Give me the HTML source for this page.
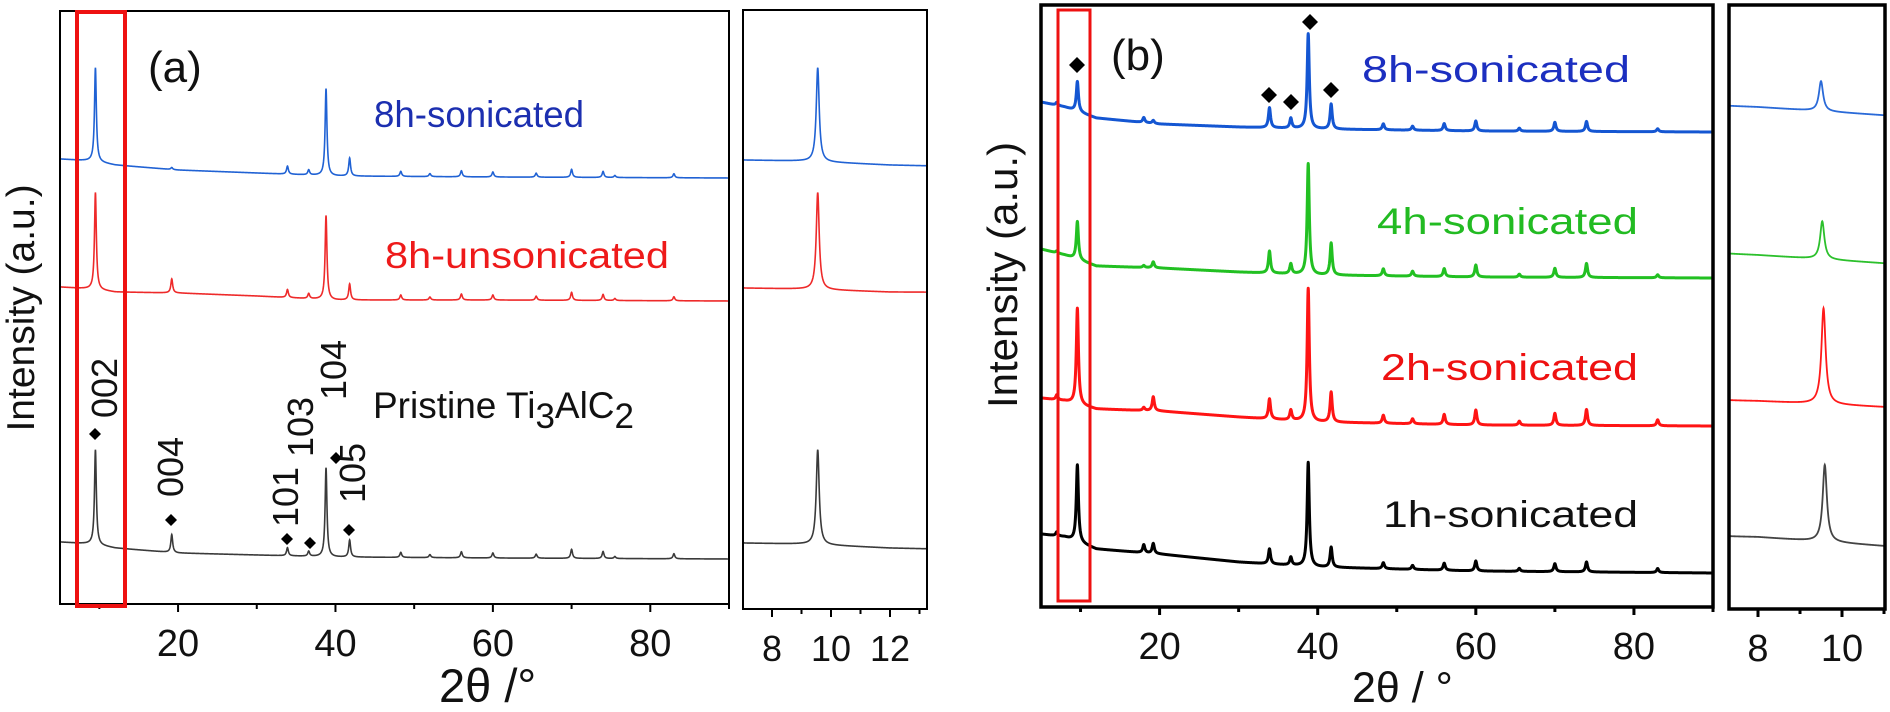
<!DOCTYPE html>
<html><head><meta charset="utf-8"><style>
html,body{margin:0;padding:0;background:#fff;}
svg{display:block;font-family:"Liberation Sans",Arial,sans-serif;}
</style></head><body>
<svg id="fig" width="1890" height="712" viewBox="0 0 1890 712" xmlns="http://www.w3.org/2000/svg">
<defs>
<clipPath id="cA"><rect x="60" y="11" width="669" height="593"/></clipPath>
<clipPath id="cAi"><rect x="743" y="10" width="184" height="599"/></clipPath>
<clipPath id="cB"><rect x="1041" y="5" width="672" height="602"/></clipPath>
<clipPath id="cBi"><rect x="1729" y="5" width="156" height="604"/></clipPath>
</defs>
<g id="layer"></g>
</svg>
<script>
// ---------- Panel (a) data ----------
const aPeaksX = [9.5, 19.2, 33.9, 36.6, 38.8, 41.8, 48.3, 52.0, 56.0, 60.0, 65.5, 70.0, 74.0, 75.5, 83.0];
const aBlueH  = [94, 2, 8, 5, 87, 18, 5, 3, 6, 5, 4, 8, 6, 2, 4];
const aRedH   = [97, 14, 8, 5, 84, 16, 5, 3, 6, 5, 4, 8, 6, 2, 4];
const aBlackH = [95, 18, 8, 5, 89, 17, 5, 3, 6, 5, 4, 9, 7, 2, 5];
const aBgX = [5, 9, 12, 20, 30, 40, 60, 90];
const aBlueBg  = [445, 443, 439, 434, 431, 428, 427, 426];
const aRedBg   = [317, 315, 312, 311, 308, 304, 304, 303];
const aBlackBg = [62, 60, 56, 51, 49, 47, 46, 45];
// ---------- Panel (b) data ----------
const bPeaksX = [7.0, 9.6, 18.0, 19.2, 33.9, 36.6, 38.8, 41.7, 48.3, 52.0, 56.0, 60.0, 65.5, 70.0, 74.0, 83.0];
const bBlueH  = [3, 30, 5, 3, 20, 10, 95, 25, 6, 4, 7, 10, 3, 9, 10, 3];
const bGreenH = [2, 38, 2, 6, 22, 10, 111, 32, 7, 5, 8, 12, 3, 9, 14, 3];
const bRedH   = [5, 96, 3, 14, 20, 10, 133, 30, 8, 5, 10, 15, 4, 12, 16, 6];
const bBlackH = [4, 77, 8, 10, 15, 8, 104, 20, 6, 4, 7, 10, 3, 8, 10, 4];
const bBgX = [5, 8, 12, 20, 30, 40, 60, 90];
const bBlueBg  = [505, 500, 489, 483, 480, 478, 476, 475];
const bGreenBg = [358, 352, 341, 339, 335, 332, 330, 329];
const bRedBg   = [209, 206, 198, 196, 190, 185, 182, 181];
const bBlackBg = [73, 70, 58, 53, 45, 40, 36, 34];
// tick labels
const aTicks = [20, 40, 60, 80];
const aInsetTicks = [8, 10, 12];
const bTicks = [20, 40, 60, 80];
const bInsetTicks = [8, 10];

const NS = "http://www.w3.org/2000/svg";
const layer = document.getElementById('layer');
function el(tag, attrs, parent, text){
  const e = document.createElementNS(NS, tag);
  for (const k in attrs) e.setAttribute(k, attrs[k]);
  if (text !== undefined) e.textContent = text;
  (parent || layer).appendChild(e);
  return e;
}
function lin(d0, d1, r0, r1){ return v => r0 + (v - d0) * (r1 - r0) / (d1 - d0); }
function interp(xs, ys, x){
  if (x <= xs[0]) return ys[0];
  for (let i = 1; i < xs.length; i++) if (x <= xs[i]) { const t = (x - xs[i-1]) / (xs[i] - xs[i-1]); return ys[i-1] + t * (ys[i] - ys[i-1]); }
  return ys[ys.length-1];
}
function val(x, bgX, bgY, pX, pH, w){
  let y = interp(bgX, bgY, x);
  for (let i = 0; i < pX.length; i++){ const d = x - pX[i]; y += pH[i] * w * w / (d * d + w * w); }
  return y;
}
function path(xs, ys, bgX, bgY, pX, pH, w, x0, x1, step){
  let d = '';
  for (let x = x0; x <= x1 + 1e-9; x += step){
    d += (d ? 'L' : 'M') + xs(x).toFixed(2) + ',' + ys(val(x, bgX, bgY, pX, pH, w)).toFixed(2);
  }
  return d;
}

// scales
const xA = lin(5, 90, 60, 729), yA = lin(0, 593, 604, 11);
const xAi = lin(8, 10, 772, 831), yAi = lin(0, 593, 604, 11);
const xB = lin(5, 90, 1041, 1713), yB = lin(0, 602, 607, 5);
const xBi = lin(8, 10, 1758, 1842), yBi = lin(0, 602, 607, 5);

// ---- Panel (a) main ----
const gA = el('g', {'clip-path':'url(#cA)'});


const aSeries = [[aBlueBg, aBlueH, '#2062d4', 'trace-a-8h-sonicated'], [aRedBg, aRedH, '#ee2a2a', 'trace-a-8h-unsonicated'], [aBlackBg, aBlackH, '#3a3a3a', 'trace-a-pristine']];
aSeries.forEach(s => {
  const p = el('path', {d: path(xA, yA, aBgX, s[0], aPeaksX, s[1], 0.14, 5, 90, 0.02), fill:'none', stroke:s[2], 'stroke-width':1.6}, gA);
  
  
});
// ---- Panel (a) inset ----
const gAi = el('g', {'clip-path':'url(#cAi)'});


aSeries.forEach(s => {
  const p = el('path', {d: path(xAi, yAi, aBgX, s[0], aPeaksX.map(v => v===9.5?9.55:v), s[1], 0.06, 7, 13.3, 0.005), fill:'none', stroke:s[2], 'stroke-width':1.6}, gAi);
  
  
});
// ---- Panel (b) main ----
const gB = el('g', {'clip-path':'url(#cB)'});


const bSeries = [[bBlueBg, bBlueH, '#1456d2', 'trace-b-8h'], [bGreenBg, bGreenH, '#22c022', 'trace-b-4h'], [bRedBg, bRedH, '#ff1414', 'trace-b-2h'], [bBlackBg, bBlackH, '#000000', 'trace-b-1h']];
bSeries.forEach(s => {
  const p = el('path', {d: path(xB, yB, bBgX, s[0], bPeaksX, s[1], 0.16, 5, 90, 0.02), fill:'none', stroke:s[2], 'stroke-width':3, 'stroke-linejoin':'round'}, gB);
  
  
});
// ---- Panel (b) inset ----
const gBi = el('g', {'clip-path':'url(#cBi)'});


const bInsetColors = ['#2a6ad8', '#2cc02c', '#ff1a1a', '#444444'];
bSeries.forEach((s, i) => {
  const p = el('path', {d: path(xBi, yBi, bBgX, s[0], bPeaksX.map(v => v===9.6?9.5+0.03*i:v), s[1], 0.06, 7.2, 11.1, 0.005), fill:'none', stroke:bInsetColors[i], 'stroke-width':1.8}, gBi);
  
  
});

// ---- Frames and axes ----
function frame(x, y, w, h, sw, name){
  const r = el('rect', {x:x, y:y, width:w, height:h, fill:'none', stroke:'#000', 'stroke-width':sw});
  
  
}
frame(60, 11, 669, 593, 2, 'panel-a-frame');
frame(743, 10, 184, 599, 2, 'panel-a-inset-frame');
frame(1041, 5, 672, 602, 3.5, 'panel-b-frame');
frame(1729, 5, 156, 604, 3.5, 'panel-b-inset-frame');

function ticks(xs, y0, majors, minors, fs, name, sw){
  const g = el('g', {});
  
  
  majors.forEach(v => {
    el('line', {x1:xs(v), x2:xs(v), y1:y0, y2:y0+8, stroke:'#000', 'stroke-width':sw}, g);
    const t = el('text', {x:xs(v), y:y0+52, 'font-size':fs, 'text-anchor':'middle', fill:'#111'}, g, String(v));
    
    
  });
  minors.forEach(v => el('line', {x1:xs(v), x2:xs(v), y1:y0, y2:y0+5, stroke:'#000', 'stroke-width':sw}, g));
}
ticks(xA, 604, aTicks, [10, 30, 50, 70, 90], 38, 'panel-a-x-axis', 2);
ticks(xAi, 609, aInsetTicks, [9, 11, 13], 36, 'panel-a-inset-x-axis', 2);
ticks(xB, 607, bTicks, [10, 30, 50, 70, 90], 38, 'panel-b-x-axis', 3);
ticks(xBi, 609, bInsetTicks, [9, 11], 38, 'panel-b-inset-x-axis', 3);

// red boxes
function rbox(x, y, w, h, sw, name){
  const r = el('rect', {x:x, y:y, width:w, height:h, fill:'none', stroke:'#ee1111', 'stroke-width':sw});
  
  
}
rbox(77, 12, 48, 594, 4, 'panel-a-highlight-box');
rbox(1058, 10, 32, 591, 3, 'panel-b-highlight-box');

// diamonds
function diamond(cx, cy, r, name){
  const p = el('polygon', {points:`${cx},${cy-r} ${cx+r},${cy} ${cx},${cy+r} ${cx-r},${cy}`, fill:'#000'});
  
  
}
[[95,434],[171,520],[287,539],[310,543],[336,458],[349,530]].forEach((d,i)=>diamond(d[0],d[1],6,'peak-marker-a-'+i));
[[1077,65],[1269,95],[1291,102],[1310,22],[1331,90]].forEach((d,i)=>diamond(d[0],d[1],8,'peak-marker-b-'+i));

// rotated hkl labels
[['002',104,418],['004',170,497],['101',285,527],['103',300,457],['104',333,400],['105',352,503]].forEach(l => {
  const t = el('text', {x:0, y:0, 'font-size':36, fill:'#111', transform:`translate(${l[1]+13},${l[2]}) rotate(-90)`}, layer, l[0]);
  
  
});

function txt(x, y, s, fs, fill, name, extra){
  const a = {x:x, y:y, 'font-size':fs, fill:fill};
  for (const k in (extra||{})) a[k] = extra[k];
  const t = el('text', a, layer, s);
  
  
  return t;
}
txt(148, 82, '(a)', 44, '#111', 'panel-a-label');
txt(374, 127, '8h-sonicated', 37, '#1c2fb0', 'label-a-8h-sonicated', {textLength:210, lengthAdjust:'spacingAndGlyphs'});
txt(385, 268, '8h-unsonicated', 37, '#ee1a1a', 'label-a-8h-unsonicated', {textLength:284, lengthAdjust:'spacingAndGlyphs'});
const pr = txt(373, 418, 'Pristine Ti', 37, '#111', 'label-a-pristine');
el('tspan', {dy:10, 'font-size':35}, pr, '3');
el('tspan', {dy:-10}, pr, 'AlC');
el('tspan', {dy:10, 'font-size':35}, pr, '2');
txt(0, 0, 'Intensity (a.u.)', 39, '#111', 'panel-a-y-axis-title', {transform:'translate(34,308) rotate(-90)', 'text-anchor':'middle'});
txt(439, 702, '2θ /°', 47, '#111', 'panel-a-x-axis-title');

txt(1111, 70, '(b)', 44, '#111', 'panel-b-label');
txt(1362, 82, '8h-sonicated', 37, '#1c2fc0', 'label-b-8h', {textLength:268, lengthAdjust:'spacingAndGlyphs'});
txt(1377, 234, '4h-sonicated', 37, '#22bb22', 'label-b-4h', {textLength:261, lengthAdjust:'spacingAndGlyphs'});
txt(1381, 380, '2h-sonicated', 37, '#ee1111', 'label-b-2h', {textLength:257, lengthAdjust:'spacingAndGlyphs'});
txt(1383, 527, '1h-sonicated', 37, '#111', 'label-b-1h', {textLength:255, lengthAdjust:'spacingAndGlyphs'});
txt(0, 0, 'Intensity (a.u.)', 42, '#111', 'panel-b-y-axis-title', {transform:'translate(1017,275) rotate(-90)', 'text-anchor':'middle'});
txt(1352, 702, '2θ / °', 43, '#111', 'panel-b-x-axis-title');
</script>
</body></html>
